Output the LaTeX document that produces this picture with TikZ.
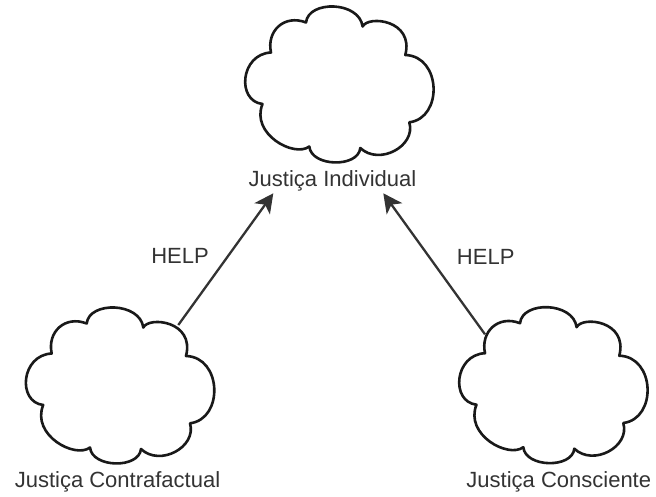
\documentclass[tikz,border=0pt]{standalone}
\usepackage{fontspec}
\setmainfont{Liberation Sans}
\usetikzlibrary{arrows.meta,calc}
\definecolor{ink}{HTML}{333333}
\tikzset{
  cloudbox/.style={minimum width=190pt, minimum height=156pt, inner sep=0pt, outer sep=0pt},
  cloudline/.style={draw=black!90, line width=2.6pt, line join=round, fill=white},
  lbl/.style={anchor=base, inner sep=0pt, text=ink, font=\fontsize{22}{26}\selectfont},
  link/.style={draw=ink, line width=2.3pt, -{Stealth[length=19pt,width=19pt,inset=5pt]}},
}
% scalloped cloud outline, drawn from the top-left corner of its box (y grows downwards)
\newcommand\cloudoutline[1]{%
  \draw[cloudline, shift={(#1)}] (61.7,16.5)
    .. controls (64,-6) and (115,-5) .. (118.3,20.5)
    .. controls (124,9) and (170,14) .. (161,49)
    .. controls (197,50) and (199,112) .. (165,116.3)
    .. controls (172,140) and (135,160) .. (116,142)
    .. controls (114,162) and (67,161) .. (65,140.5)
    .. controls (50,152) and (6,128) .. (18.2,98)
    .. controls (-8,95) and (-4,48) .. (26.7,46.5)
    .. controls (22,25) and (40,8) .. cycle;}
\begin{document}
\begin{tikzpicture}[x=1pt, y=-1pt]
\useasboundingbox (0,0) rectangle (656,496);
% cloud boxes
\node[cloudbox] (cI) at (339.3,84) {};
\node[cloudbox] (cC) at (120,385) {};
\node[cloudbox] (cS) at (553.3,384.7) {};
% labels under the clouds
\node[lbl] (tI) at (332.5,186.7) {Justiça Individual};
\node[lbl] (tC) at (117.5,487.7) {Justiça Contrafactual};
\node[lbl] (tS) at (558.8,487.3) {Justiça Consciente};
% edge labels
\node[lbl] (h1) at (180,263.3) {HELP};
\node[lbl] (h2) at (485.7,264) {HELP};
% connectors
\coordinate (sC) at ($(cC.north west)+(153.3,18)$);
\coordinate (sS) at ($(cS.north west)+(26.7,27.6)$);
\coordinate (eC) at (273.3,193.3);
\coordinate (eS) at (383.3,193.3);
\draw[link] (sC) -- (eC);
\draw[link] (sS) -- (eS);
% clouds
\cloudoutline{cI.north west}
\cloudoutline{cC.north west}
\cloudoutline{cS.north west}
\end{tikzpicture}
\end{document}
